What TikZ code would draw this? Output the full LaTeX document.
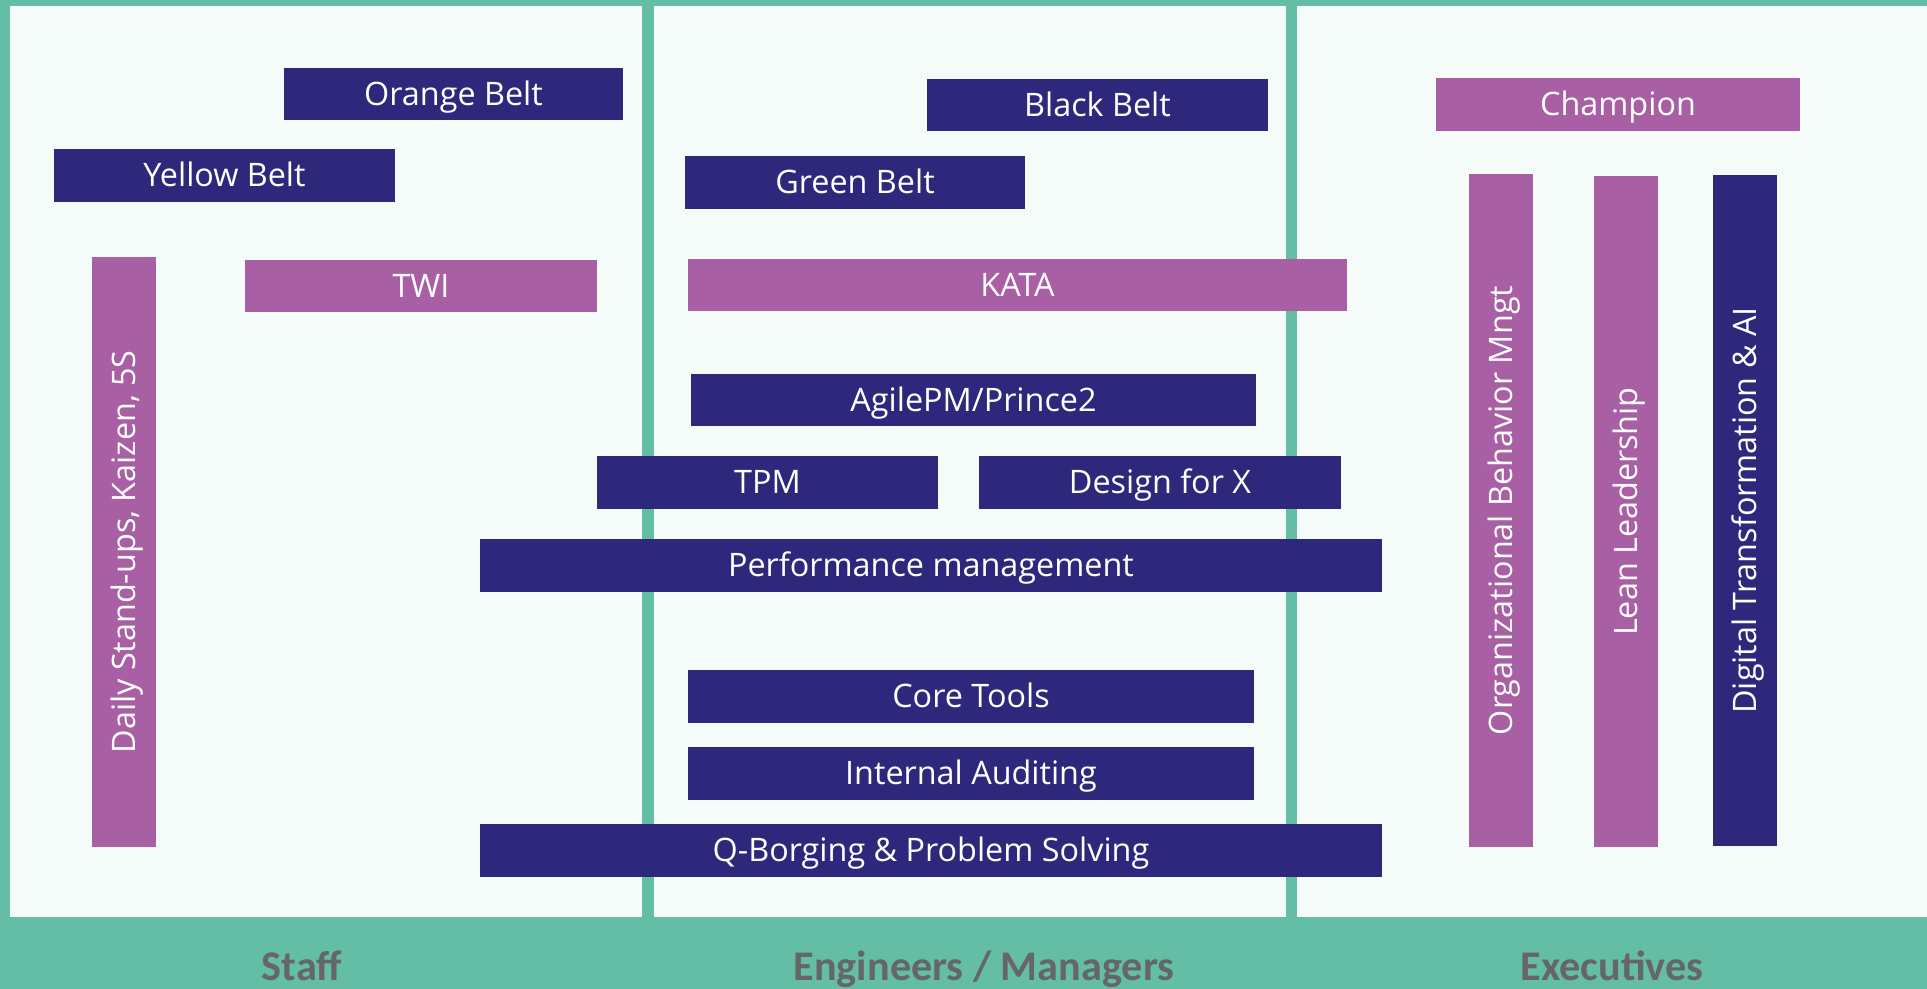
\documentclass[tikz,border=0pt]{standalone}
\usepackage{fontspec}
\setmainfont{Open Sans}
\newfontfamily\captionfont{Carlito}
\usepackage{tikz}

\definecolor{bandgreen}{HTML}{63BEA5}
\definecolor{panelwhite}{HTML}{F5FBF9}
\definecolor{beltnavy}{HTML}{2D287C}
\definecolor{beltpurple}{HTML}{A95FA3}
\definecolor{captiongray}{HTML}{666666}

\begin{document}
\begin{tikzpicture}[x=0.01cm, y=-0.01cm,
    bar/.style={rectangle, inner sep=0pt, text=white,
      font=\fontsize{9.2}{11}\selectfont, text height=6.5pt, text depth=0pt},
    navybar/.style={bar, fill=beltnavy},
    purplebar/.style={bar, fill=beltpurple},
    caption/.style={text=captiongray, inner sep=0pt,
      font=\captionfont\bfseries\fontsize{12}{14}\selectfont,
      text height=7.7pt, text depth=0pt}]
    \useasboundingbox (0,0) rectangle (1927,989);

    % background and the three columns
    \fill[bandgreen] (0,0) rectangle (1927,989);
    \fill[panelwhite] (10,6) rectangle (642,917);
    \fill[panelwhite] (654,6) rectangle (1286,917);
    \fill[panelwhite] (1297,6) rectangle (1927,917);

    % staff
    \node[navybar, minimum width=3.39cm, minimum height=0.52cm] (orange) at (453.5,94) {Orange Belt};
    \node[navybar, minimum width=3.41cm, minimum height=0.53cm] (yellow) at (224.5,175.5) {Yellow Belt};
    \node[purplebar, rotate=90, minimum width=5.90cm, minimum height=0.64cm] (daily) at (124,552) {Daily Stand-ups, Kaizen, 5S};
    \node[purplebar, minimum width=3.52cm, minimum height=0.52cm] (twi) at (421,286) {TWI};

    % engineers / managers
    \node[navybar, minimum width=3.41cm, minimum height=0.52cm] (black) at (1097.5,105) {Black Belt};
    \node[navybar, minimum width=3.40cm, minimum height=0.53cm] (green) at (855,182.5) {Green Belt};
    \node[purplebar, minimum width=6.59cm, minimum height=0.52cm] (kata) at (1017.5,285) {KATA};
    \node[navybar, minimum width=5.65cm, minimum height=0.52cm] (agile) at (973.5,400) {AgilePM/Prince2};
    \node[navybar, minimum width=3.41cm, minimum height=0.53cm] (tpm) at (767.5,482.5) {TPM};
    \node[navybar, minimum width=3.62cm, minimum height=0.53cm] (dfx) at (1160,482.5) {Design for X};
    \node[navybar, minimum width=9.02cm, minimum height=0.53cm] (perf) at (931,565.5) {Performance management};
    \node[navybar, minimum width=5.66cm, minimum height=0.53cm] (core) at (971,696.5) {Core Tools};
    \node[navybar, minimum width=5.66cm, minimum height=0.53cm] (audit) at (971,773.5) {Internal Auditing};
    \node[navybar, minimum width=9.02cm, minimum height=0.53cm] (qborg) at (931,850.5) {Q-Borging \& Problem Solving};

    % executives
    \node[purplebar, minimum width=3.64cm, minimum height=0.53cm] (champion) at (1618,104.5) {Champion};
    \node[purplebar, rotate=90, minimum width=6.73cm, minimum height=0.64cm] (orgbeh) at (1501,510.5) {Organizational Behavior Mngt};
    \node[purplebar, rotate=90, minimum width=6.71cm, minimum height=0.64cm] (lean) at (1626,511.5) {Lean Leadership};
    \node[navybar, rotate=90, minimum width=6.71cm, minimum height=0.64cm] (digital) at (1745,510.5) {Digital Transformation \& AI};

    % column captions
    \node[caption] (staff) at (302,967) {Staff};
    \node[caption] (engineers) at (984,967) {Engineers / Managers};
    \node[caption] (executives) at (1612,967) {Executives};
\end{tikzpicture}
\end{document}
